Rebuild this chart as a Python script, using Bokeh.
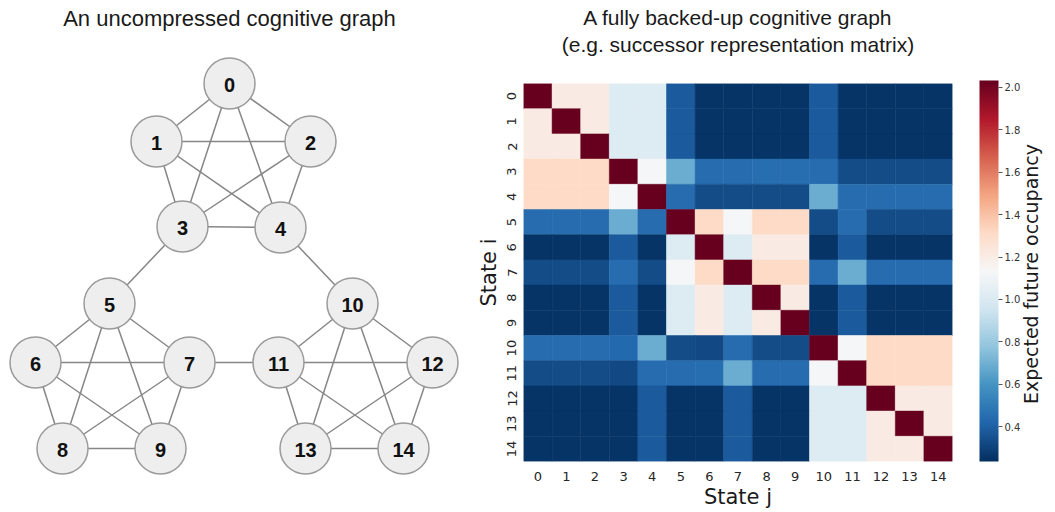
import math
from bokeh.plotting import figure
from bokeh.layouts import row, column
from bokeh.models import (ColumnDataSource, Range1d, LinearColorMapper, ColorBar, FixedTicker,
                          PrintfTickFormatter, LinearAxis, Label, Title)
from bokeh.transform import transform
from bokeh.core.properties import value
from bokeh.embed import file_html
from bokeh.resources import INLINE

# ---------------- data ----------------
left_title = "An uncompressed cognitive graph"
right_title_1 = "A fully backed-up cognitive graph"
right_title_2 = "(e.g. successor representation matrix)"
x_label = "State j"
y_label = "State i"
cb_label = "Expected future occupancy"

node_ids = list(range(15))
node_x = [229, 156, 310, 182, 280, 109, 35, 189, 62, 160, 352, 278, 432, 305, 403]
node_y = [83, 141, 141, 226, 227, 303, 362, 362, 448, 448, 303, 362, 362, 448, 448]

cluster_a = [0, 1, 2, 3, 4]
cluster_b = [5, 6, 7, 8, 9]
cluster_c = [10, 11, 12, 13, 14]
bridges = [(3, 5), (4, 10), (7, 11)]

states = list(range(15))
row_0 = [2.03, 1.21, 1.21, 1.01, 1.01, 0.38, 0.25, 0.25, 0.25, 0.25, 0.38, 0.25, 0.25, 0.25, 0.25]
row_1 = [1.21, 2.03, 1.21, 1.01, 1.01, 0.38, 0.25, 0.25, 0.25, 0.25, 0.38, 0.25, 0.25, 0.25, 0.25]
row_2 = [1.21, 1.21, 2.03, 1.01, 1.01, 0.38, 0.25, 0.25, 0.25, 0.25, 0.38, 0.25, 0.25, 0.25, 0.25]
row_3 = [1.31, 1.31, 1.31, 2.03, 1.12, 0.69, 0.44, 0.44, 0.45, 0.45, 0.44, 0.33, 0.33, 0.33, 0.33]
row_4 = [1.31, 1.31, 1.31, 1.12, 2.03, 0.44, 0.33, 0.33, 0.33, 0.33, 0.69, 0.44, 0.44, 0.44, 0.44]
row_5 = [0.44, 0.44, 0.44, 0.69, 0.44, 2.03, 1.31, 1.12, 1.31, 1.31, 0.33, 0.44, 0.33, 0.33, 0.33]
row_6 = [0.25, 0.25, 0.25, 0.38, 0.25, 1.01, 2.03, 1.01, 1.21, 1.21, 0.25, 0.38, 0.25, 0.25, 0.25]
row_7 = [0.33, 0.33, 0.33, 0.44, 0.33, 1.12, 1.31, 2.03, 1.31, 1.31, 0.44, 0.69, 0.44, 0.44, 0.44]
row_8 = [0.25, 0.25, 0.25, 0.38, 0.25, 1.01, 1.21, 1.01, 2.03, 1.21, 0.25, 0.38, 0.25, 0.25, 0.25]
row_9 = [0.25, 0.25, 0.25, 0.38, 0.25, 1.01, 1.21, 1.01, 1.21, 2.03, 0.25, 0.38, 0.25, 0.25, 0.25]
row_10 = [0.44, 0.44, 0.44, 0.43, 0.69, 0.33, 0.32, 0.44, 0.33, 0.33, 2.03, 1.12, 1.31, 1.31, 1.31]
row_11 = [0.33, 0.33, 0.33, 0.32, 0.44, 0.44, 0.45, 0.69, 0.44, 0.44, 1.12, 2.03, 1.31, 1.31, 1.31]
row_12 = [0.25, 0.25, 0.25, 0.25, 0.38, 0.25, 0.25, 0.38, 0.25, 0.25, 1.01, 1.01, 2.03, 1.21, 1.21]
row_13 = [0.25, 0.25, 0.25, 0.25, 0.38, 0.25, 0.25, 0.38, 0.25, 0.25, 1.01, 1.01, 1.21, 2.03, 1.21]
row_14 = [0.25, 0.25, 0.25, 0.25, 0.38, 0.25, 0.25, 0.38, 0.25, 0.25, 1.01, 1.01, 1.21, 1.21, 2.03]

color_low = 0.235
color_high = 2.033
cb_ticks = [0.4, 0.6, 0.8, 1.0, 1.2, 1.4, 1.6, 1.8, 2.0]

rdbu_r_stops = ['#053061', '#2166ac', '#4393c3', '#92c5de', '#d1e5f0', '#f7f7f7',
                '#fddbc7', '#f4a582', '#d6604d', '#b2182b', '#67001f']

# ---------------- helpers ----------------
def interp_palette(stops, n=256):
    rgb = [tuple(int(h[i:i + 2], 16) for i in (1, 3, 5)) for h in stops]
    out = []
    for k in range(n):
        t = k / (n - 1) * (len(rgb) - 1)
        i = min(int(t), len(rgb) - 2)
        f = t - i
        c = [round(rgb[i][m] + (rgb[i + 1][m] - rgb[i][m]) * f) for m in range(3)]
        out.append('#%02x%02x%02x' % tuple(c))
    return out

def blank_axis(ax):
    ax.axis_line_color = None
    ax.major_tick_line_color = None
    ax.minor_tick_line_color = None
    ax.major_tick_in = 0
    ax.major_tick_out = 0
    ax.minor_tick_in = 0
    ax.minor_tick_out = 0
    ax.major_label_standoff = 0

FIG_H = 511
TOP, BOTTOM = 83, 47

# ---------------- left: graph ----------------
edges = []
for cl in (cluster_a, cluster_b, cluster_c):
    for a in range(len(cl)):
        for b in range(a + 1, len(cl)):
            edges.append((cl[a], cl[b]))
edges += bridges

p1 = figure(width=470, height=FIG_H, x_range=Range1d(0, 470), y_range=Range1d(FIG_H, 0),
            x_axis_type=None, y_axis_type=None, output_backend="svg", toolbar_location=None,
            min_border=0, min_border_left=0, min_border_right=0, min_border_top=0, min_border_bottom=0)
p1.outline_line_color = None
p1.grid.visible = False

p1.segment(x0=[node_x[a] for a, b in edges], y0=[node_y[a] for a, b in edges],
           x1=[node_x[b] for a, b in edges], y1=[node_y[b] for a, b in edges],
           line_color="#868686", line_width=1.5)
p1.scatter(x=node_x, y=node_y, size=51, fill_color="#eeeeee", line_color="#9a9a9a", line_width=1.5)
p1.text(x=node_x, y=node_y, text=[str(i) for i in node_ids], text_align="center",
        text_baseline="middle", text_font=value("Liberation Sans"), text_font_style="bold",
        text_font_size="20px", text_color="#111111", y_offset=1)
p1.add_layout(Label(x=229, y=18, text=left_title, text_align="center", text_baseline="middle",
                    text_font="Liberation Sans", text_font_size="22px", text_color="#1a1a1a"))

# ---------------- right: heatmap ----------------
matrix = [row_0, row_1, row_2, row_3, row_4, row_5, row_6, row_7, row_8, row_9,
          row_10, row_11, row_12, row_13, row_14]
xs, ys, vs = [], [], []
for i in states:
    for j in states:
        xs.append(j)
        ys.append(i)
        vs.append(matrix[i][j])
src = ColumnDataSource(dict(j=xs, i=ys, v=vs))

palette = interp_palette(rdbu_r_stops)
mapper = LinearColorMapper(palette=palette, low=color_low, high=color_high)

p2 = figure(width=553, height=FIG_H, x_range=Range1d(-0.5, 14.5), y_range=Range1d(14.5, -0.5),
            output_backend="svg", toolbar_location=None,
            min_border_left=53, min_border_right=68, min_border_top=TOP, min_border_bottom=BOTTOM)
p2.outline_line_color = None
p2.grid.visible = False

bottom_ax = p2.below[0]
left_ax = p2.left[0]
for ax in (bottom_ax, left_ax):
    blank_axis(ax)
    ax.ticker = FixedTicker(ticks=states)
    ax.major_label_text_font = "DejaVu Sans"
    ax.major_label_text_font_size = "13px"
    ax.major_label_text_color = "#262626"
    ax.axis_label_text_font = "DejaVu Sans"
    ax.axis_label_text_font_size = "21px"
    ax.axis_label_text_font_style = "normal"
    ax.axis_label_text_color = "#1a1a1a"
bottom_ax.major_label_standoff = 10
bottom_ax.axis_label_standoff = 1
bottom_ax.axis_label = x_label
left_ax.major_label_standoff = 7
left_ax.axis_label_standoff = 4
left_ax.axis_label = y_label
left_ax.major_label_orientation = "vertical"

# blank spacer title between the frame and the two title lines
t0 = Title(text=" ", text_font_size="10px", standoff=15)
t2 = Title(text=right_title_2, align="center", text_font="Liberation Sans",
           text_font_style="normal", text_font_size="21px", text_color="#1a1a1a",
           standoff=0, vertical_align="bottom")
t1 = Title(text=right_title_1, align="center", text_font="Liberation Sans",
           text_font_style="normal", text_font_size="21px", text_color="#1a1a1a",
           standoff=4, vertical_align="bottom")
p2.add_layout(t0, "above")
p2.add_layout(t2, "above")
p2.add_layout(t1, "above")

p2.rect(x="j", y="i", width=1, height=1, source=src,
        fill_color=transform("v", mapper), line_color=transform("v", mapper), line_width=0.5)

cb = ColorBar(color_mapper=mapper, ticker=FixedTicker(ticks=cb_ticks),
              formatter=PrintfTickFormatter(format="%.1f"), width=19, height=381,
              padding=0, margin=0, location=(27, 0), major_tick_in=0, major_tick_out=4,
              major_tick_line_color="#555555", major_label_text_font_size="10px",
              major_label_text_font="DejaVu Sans", major_label_text_color="#333333",
              bar_line_color=None, label_standoff=2, background_fill_color=None)
p2.add_layout(cb, "right")

# ---------------- colour-bar label (narrow companion figure, slightly overlapping) ----------------
p3 = figure(width=38, height=FIG_H, x_range=Range1d(0, 1), y_range=Range1d(14.5, -0.5),
            x_axis_type=None, output_backend="svg", toolbar_location=None,
            min_border_left=13, min_border_right=0, min_border_top=TOP, min_border_bottom=BOTTOM,
            margin=(0, 0, 0, -7))
p3.outline_line_color = None
p3.grid.visible = False
p3.border_fill_color = None
p3.background_fill_color = None
lab_ax = p3.left[0]
blank_axis(lab_ax)
lab_ax.ticker = FixedTicker(ticks=[])
lab_ax.major_label_text_font_size = "0px"
lab_ax.axis_label = cb_label
lab_ax.axis_label_text_font = "DejaVu Sans"
lab_ax.axis_label_text_font_size = "19px"
lab_ax.axis_label_text_font_style = "normal"
lab_ax.axis_label_text_color = "#1a1a1a"
lab_ax.axis_label_standoff = 0

layout = row(column(p1), column(p2), column(p3))
open("out.html", "w").write(file_html(layout, INLINE))
